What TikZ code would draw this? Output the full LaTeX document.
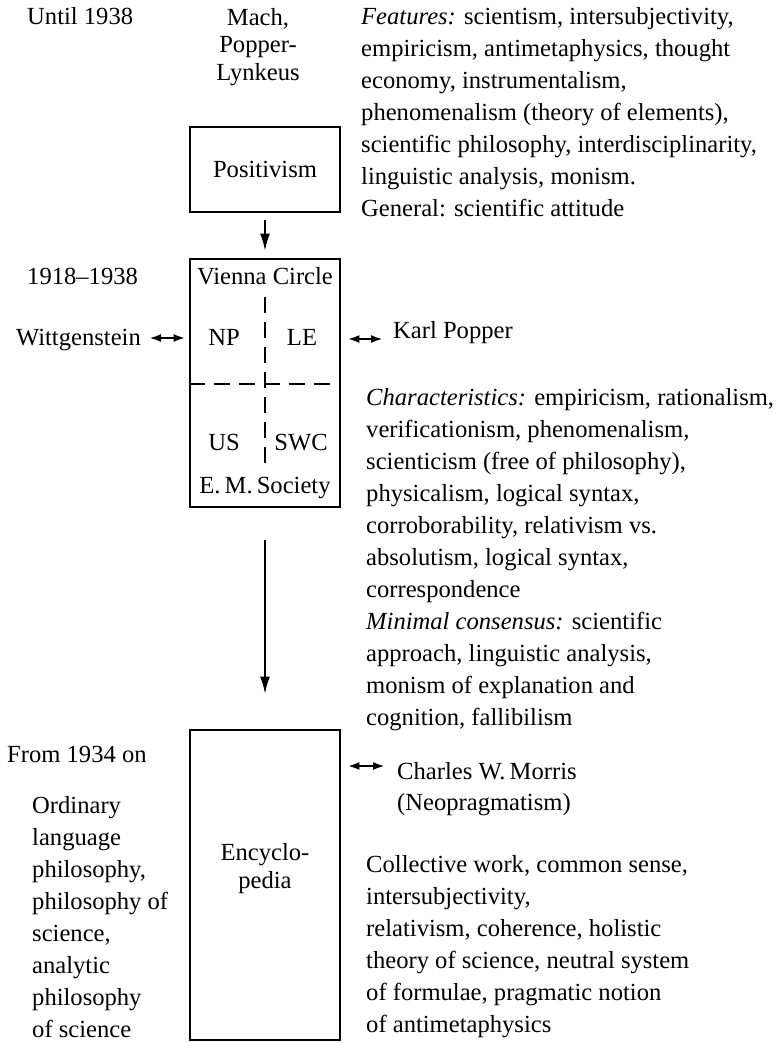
\documentclass[tikz,border=0pt]{standalone}
\usepackage{fontspec}
\setmainfont{Liberation Serif}
\usetikzlibrary{arrows.meta}
\begin{document}
\begin{tikzpicture}[x=1pt,y=-1pt,
  every node/.style={inner sep=0pt, font=\fontsize{24.6}{32}\selectfont},
  box/.style={draw, line width=2.8pt, minimum width=150pt},
  blk/.style={anchor=north west, align=left},
  down/.style={line width=2.8pt, -{Latex[length=18pt,width=10pt]}},
  both/.style={line width=2.6pt, {Latex[length=12pt,width=8pt]}-{Latex[length=12pt,width=8pt]}},
  sep/.style={line width=2.4pt, dash pattern=on 16pt off 9pt}]
\useasboundingbox (0,0) rectangle (777,1043);

% --- top row: positivism
\node[anchor=base west] (until) at (27,25) {Until 1938};
\node[anchor=north, align=center, font=\fontsize{24.6}{27.5}\selectfont] (mach) at (258,5.75)
  {\strut Mach,\\\strut Popper-\\\strut Lynkeus};
\node[blk] (features) at (361,2.1) {%
  \strut\textit{Features:} scientism, intersubjectivity,\\
  \strut empiricism, antimetaphysics, thought\\
  \strut economy, instrumentalism,\\
  \strut phenomenalism (theory of elements),\\
  \strut scientific philosophy, interdisciplinarity,\\
  \strut linguistic analysis, monism.\\
  \strut General: scientific attitude};
\node[box, minimum height=85pt] (pos) at (265,169.5) {Positivism};

% --- Vienna Circle box with its four quarters
\node[anchor=base west] (vcyears) at (27,284) {1918--1938};
\node[box, minimum height=248pt] (vc) at (265,383) {};
\node[anchor=base] (vctitle) at (265,284) {Vienna Circle};
\node[anchor=base] (np) at (224,345) {NP};
\node[anchor=base] (le) at (302,345) {LE};
\node[anchor=base] (us) at (224,450) {US};
\node[anchor=base] (swc) at (301,450) {SWC};
\node[anchor=base] (ems) at (265,493) {E.\,M.\,Society};
\coordinate (vtop) at (265,297);
\coordinate (vbot) at (265,469);
\coordinate (hmid) at (265,384);
\draw[sep] (vtop) -- (vbot);
\draw[sep] (vc.west |- hmid) -- (vc.east |- hmid);

\node[anchor=base east] (wit) at (141,345) {Wittgenstein};
\node[anchor=base west] (kp) at (393,338) {Karl Popper};
\coordinate (witarr) at (149,338);
\coordinate (kparr) at (383,339);
\draw[both, shorten >=3pt] (witarr) -- (witarr -| vc.west);
\draw[both, shorten <=6pt] (vc.east |- kparr) -- (kparr);

\node[blk] (charac) at (366,382.6) {%
  \strut\textit{Characteristics:} empiricism, rationalism,\\
  \strut verificationism, phenomenalism,\\
  \strut scienticism (free of philosophy),\\
  \strut physicalism, logical syntax,\\
  \strut corroborability, relativism vs.\\
  \strut absolutism, logical syntax,\\
  \strut correspondence\\
  \strut\textit{Minimal consensus:} scientific\\
  \strut approach, linguistic analysis,\\
  \strut monism of explanation and\\
  \strut cognition, fallibilism};

% --- Encyclopedia
\node[box, minimum height=310pt] (enc) at (265,885) {};
\node[anchor=north, align=center, font=\fontsize{24.6}{28}\selectfont] (enctxt) at (265,840.4)
  {\strut Encyclo-\\\strut pedia};
\node[anchor=base west] (from) at (7,762) {From 1934 on};
\node[blk] (ordinary) at (32,790.6) {%
  \strut Ordinary\\
  \strut language\\
  \strut philosophy,\\
  \strut philosophy of\\
  \strut science,\\
  \strut analytic\\
  \strut philosophy\\
  \strut of science};
\node[blk, font=\fontsize{24.6}{31}\selectfont] (morris) at (397,757.3) {%
  \strut Charles W.\,Morris\\
  \strut (Neopragmatism)};
\coordinate (morarr) at (385,766);
\draw[both, shorten <=6pt] (enc.east |- morarr) -- (morarr);
\node[blk] (collect) at (366,849.6) {%
  \strut Collective work, common sense,\\
  \strut intersubjectivity,\\
  \strut relativism, coherence, holistic\\
  \strut theory of science, neutral system\\
  \strut of formulae, pragmatic notion\\
  \strut of antimetaphysics};

% --- downward arrows between the boxes
\draw[down, shorten <=7pt, shorten >=6pt] (pos.south) -- (vc.north);
\draw[down, shorten <=32pt, shorten >=34pt] (vc.south) -- (enc.north);
\end{tikzpicture}
\end{document}
